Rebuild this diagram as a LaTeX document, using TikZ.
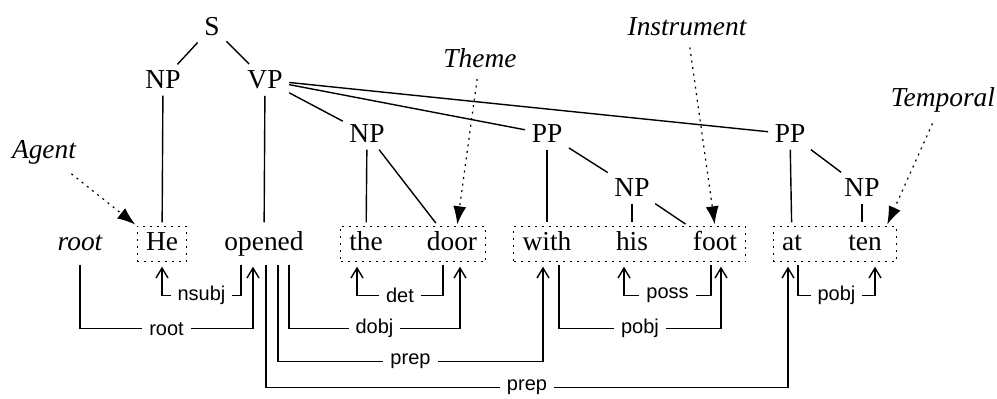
\documentclass[tikz,border=0pt]{standalone}
\usepackage{fontspec}
\setmainfont{Liberation Serif}
\setsansfont{Liberation Sans}
\usetikzlibrary{fit,arrows.meta}

\begin{document}
\begin{tikzpicture}[x=0.5pt, y=-0.5pt, line width=0.7pt]
   \tikzstyle{every node}=[font=\fontsize{13.7}{16}\selectfont]
   \tikzstyle{word}=[inner xsep=4pt, inner ysep=1.5pt, text height=10.35pt, text depth=3.65pt]
   \tikzstyle{cat}=[inner sep=3pt]
   \tikzstyle{role}=[font=\fontsize{13.7}{16}\selectfont\itshape]
   \tikzstyle{branch}=[shorten >=2pt]
   \tikzstyle{group}=[draw, dash pattern=on 1pt off 2.5pt, line width=0.5pt, inner sep=0pt]
   \tikzstyle{arg}=[dash pattern=on 1pt off 2.3pt, line width=0.6pt, shorten <=2pt, shorten >=1pt, -{Latex[length=9pt,width=6.5pt]}]
   \tikzstyle{dep}=[shorten <=1.5pt, shorten >=2.5pt, -{Straight Barb[length=5pt,width=6pt]}]
   \tikzstyle{rel}=[fill=white, inner xsep=3.5pt, inner ysep=1pt, font=\fontsize{10}{12}\sffamily]

   \useasboundingbox (0,0) rectangle (997,399);

   % sentence
   \node[word, role] (root) at (80,244) {root};
   \node[word] (He) at (162,244) {He};
   \node[word] (opened) at (264,244) {opened};
   \node[word] (the) at (366,244) {the};
   \node[word] (door) at (452,244) {door};
   \node[word] (with) at (547,244) {with};
   \node[word] (his) at (632,244) {his};
   \node[word] (foot) at (715,244) {foot};
   \node[word] (at) at (792,244) {at};
   \node[word, inner xsep=7pt] (ten) at (865,244) {ten};

   % argument spans
   \node[group, fit=(He)] (Hebox) {};
   \node[group, fit=(the)(door)] (doorbox) {};
   \node[group, fit=(with)(his)(foot)] (footbox) {};
   \node[group, fit=(at)(ten)] (tenbox) {};

   % phrase structure
   \node[cat] (S) at (212,27) {S};
   \node[cat] (NPs) at (163,80) {NP};
   \node[cat] (VP) at (265,80) {VP};
   \node[cat] (NPo) at (367,134) {NP};
   \node[cat] (PPw) at (547,134) {PP};
   \node[cat] (NPw) at (632,188) {NP};
   \node[cat] (PPa) at (790,134) {PP};
   \node[cat] (NPa) at (862,188) {NP};

   \draw (S) -- (NPs);
   \draw (S) -- (VP);
   \draw[branch] (NPs) -- (He);
   \draw[branch] (VP) -- (opened);
   \draw (VP) -- (NPo);
   \draw (VP) -- (PPw);
   \draw (VP) -- (PPa);
   \draw[branch] (NPo) -- (the);
   \draw[branch] (NPo) -- (door);
   \draw[branch] (PPw) -- (with);
   \draw (PPw) -- (NPw);
   \draw[branch] (NPw) -- (his);
   \draw[branch] (NPw) -- (foot);
   \draw[branch] (PPa) -- (at);
   \draw (PPa) -- (NPa);
   \draw[branch] (NPa) -- (NPa |- ten.north);

   % semantic roles
   \node[role] (agent) at (44,152) {Agent};
   \node[role] (theme) at (480,58) {Theme};
   \node[role] (instr) at (687,27) {Instrument};
   \node[role] (temp) at (943,100) {Temporal};

   \draw[arg] (agent) -- (Hebox.north west);
   \draw[arg] (theme) -- ([xshift=2.5pt]door.north);
   \draw[arg] (instr) -- (foot.north);
   \draw[arg] (temp) -- ([xshift=-5pt]ten.north east);

   % dependencies
   \draw[dep] (root.south) -- ++(0,67) -| node[rel, pos=.25] {root} ([xshift=-5.5pt]opened.south);
   \draw[dep] ([xshift=-11.5pt]opened.south) -- ++(0,34) -| node[rel, pos=.25] {nsubj} (He.south);
   \draw[dep] ([xshift=12.5pt]opened.south) -- ++(0,67) -| node[rel, pos=.25] {dobj} ([xshift=4pt]door.south);
   \draw[dep] ([xshift=7pt]opened.south) -- ++(0,100) -| node[rel, pos=.25] {prep} ([xshift=-2pt]with.south);
   \draw[dep] ([xshift=1pt]opened.south) -- ++(0,126) -| node[rel, pos=.25] {prep} ([xshift=-2pt]at.south);
   \draw[dep] ([xshift=-4.5pt]door.south) -- ++(0,34) -| node[rel, pos=.25] {det} ([xshift=-4.5pt]the.south);
   \draw[dep] ([xshift=6pt]with.south) -- ++(0,67) -| node[rel, pos=.25] {pobj} ([xshift=3pt]foot.south);
   \draw[dep] ([xshift=-2pt]foot.south) -- ++(0,34) -| node[rel, pos=.25] {poss} ([xshift=-4pt]his.south);
   \draw[dep] ([xshift=3pt]at.south) -- ++(0,34) -| node[rel, pos=.25] {pobj} ([xshift=5pt]ten.south);

\end{tikzpicture}
\end{document}
